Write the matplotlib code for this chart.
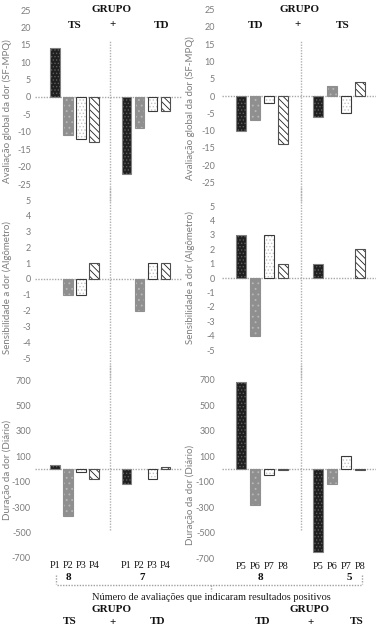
import matplotlib
matplotlib.use('Agg')
import matplotlib.pyplot as plt
import numpy as np
from matplotlib.lines import Line2D

# ---------------- data ----------------
bar_labels_left = ['P1', 'P2', 'P3', 'P4']
bar_labels_right = ['P5', 'P6', 'P7', 'P8']
groups_left = ['TS', 'TD']
groups_right = ['TD', 'TS']

sfmpq_left_ts = [14, -11, -12, -13]
sfmpq_left_td = [-22, -9, -4, -4]
sfmpq_right_td = [-10, -7, -2, -14]
sfmpq_right_ts = [-6, 3, -5, 4]

alg_left_ts = [0, -1, -1, 1]
alg_left_td = [0, -2, 1, 1]
alg_right_td = [3, -4, 3, 1]
alg_right_ts = [1, 0, 0, 2]

dur_left_ts = [35, -370, -20, -80]
dur_left_td = [-120, 0, -80, 15]
dur_right_td = [680, -285, -45, -10]
dur_right_ts = [-650, -115, 100, -5]

counts = ['8', '7', '8', '5']

ylabels = ['Avaliação global da dor (SF-MPQ)',
           'Sensibilidade a dor (Algômetro)',
           'Duração da dor (Diário)']
sfmpq_ticks = [25, 20, 15, 10, 5, 0, -5, -10, -15, -20, -25]
alg_ticks = [5, 4, 3, 2, 1, 0, -1, -2, -3, -4, -5]
dur_ticks = [700, 500, 300, 100, -100, -300, -500, -700]

# ---------------- layout ----------------
W, H = 379, 630
fig = plt.figure(figsize=(W / 100, H / 100), dpi=100)
SANS = ['Lato', 'DejaVu Sans']
SERIF = ['Liberation Serif', 'DejaVu Serif']
GRAY = '#7c7c7c'
plt.rcParams['hatch.linewidth'] = 0.6


def px_axes(x0, x1, y0, y1):
    return fig.add_axes([x0 / W, 1 - y1 / H, (x1 - x0) / W, (y1 - y0) / H])


def ftext(x, y, s, **kw):
    kw.setdefault('ha', 'center')
    kw.setdefault('va', 'center')
    fig.text(x / W, 1 - y / H, s, **kw)


styles = [
    dict(fc='#1f1f1f', hatch='.....', hc='#5c5c5c', ec='#808080'),
    dict(fc='#8f8f8f', hatch='...', hc='#b8b8b8', ec='#8f8f8f'),
    dict(fc='white', hatch='.....', hc='#c4c4c4', ec='#3a3a3a'),
    dict(fc='white', hatch='\\\\\\\\\\', hc='#202020', ec='#505050'),
]

positions = np.concatenate([np.arange(4), np.arange(4) + 5.5])
divider_x = 4.25
width = 0.76

cols = {
    'L': dict(x0=35, x1=182, xlim=(-1.54, 9.77), tick_right=31, ylab_x=7),
    'R': dict(x0=222, x1=376, xlim=(-1.36, 9.64), tick_right=215, ylab_x=190),
}
panels = [
    dict(L=(4, 201, 97, 3.48), R=(4, 201, 96, 3.46), ticks=sfmpq_ticks,
         data=dict(L=(sfmpq_left_ts, sfmpq_left_td), R=(sfmpq_right_td, sfmpq_right_ts)),
         div=dict(L=(16, None), R=(16, None)), ylab_y=dict(L=111, R=108)),
    dict(L=(187, 378, 279, 15.8), R=(187, 378, 278, 14.4), ticks=alg_ticks,
         data=dict(L=(alg_left_ts, alg_left_td), R=(alg_right_td, alg_right_ts)),
         div=dict(L=(None, None), R=(None, None)), ylab_y=dict(L=288, R=278)),
    dict(L=(365, 560, 469, 0.127), R=(365, 561, 469, 0.1275), ticks=dur_ticks,
         data=dict(L=(dur_left_ts, dur_left_td), R=(dur_right_td, dur_right_ts)),
         div=dict(L=(None, -480), R=(None, -480)), ylab_y=dict(L=470, R=495)),
]

for pi, p in enumerate(panels):
    for ck in ['L', 'R']:
        c = cols[ck]
        top, bot, zero, ppu = p[ck]
        ax = px_axes(c['x0'], c['x1'], top, bot)
        ax.set_xlim(*c['xlim'])
        ax.set_ylim(-(bot - zero) / ppu, (zero - top) / ppu)
        ax.patch.set_alpha(0)
        for s in ax.spines.values():
            s.set_visible(False)
        vals = list(p['data'][ck][0]) + list(p['data'][ck][1])
        for j, (x, v) in enumerate(zip(positions, vals)):
            st = styles[j % 4]
            if v == 0:
                continue
            ax.bar(x, v, width, color=st['fc'], edgecolor=st['hc'], hatch=st['hatch'],
                   linewidth=0, zorder=3)
            ax.bar(x, v, width, fill=False, edgecolor=st['ec'], linewidth=0.8, zorder=4)
        ax.axhline(0, color='#a8a8a8', lw=1.0, ls=(0, (1, 1)), zorder=2)
        lo, hi = ax.get_ylim()
        d_hi, d_lo = p['div'][ck]
        ax.plot([divider_x, divider_x], [d_lo if d_lo is not None else lo,
                                         d_hi if d_hi is not None else hi],
                color='#b0b0b0', lw=1.0, ls=(0, (1, 1)), zorder=1, clip_on=False)
        ax.set_yticks(p['ticks'])
        ax.set_yticklabels([str(t) for t in p['ticks']], color=GRAY, fontsize=6.5,
                           family=SANS)
        pad_px = c['x0'] - c['tick_right']
        ax.tick_params(axis='y', length=0, pad=pad_px * 0.72)
        if pi == 2:
            labs = bar_labels_left if ck == 'L' else bar_labels_right
            ax.set_xticks(positions)
            ax.set_xticklabels(labs + labs, family=SERIF, fontsize=7.5, color='#1a1a1a')
            ax.tick_params(axis='x', length=0, pad=0.5)
        else:
            ax.set_xticks([])
        ftext(c['ylab_x'], p['ylab_y'][ck], ylabels[pi], rotation=90, color=GRAY,
              fontsize=7.0, family=SANS)

# ---------------- header texts ----------------
hdr = dict(family=SERIF, fontsize=8, fontweight='bold', color='#111111')
plus = dict(family=SERIF, fontsize=8, fontweight='bold', color='#111111')
ftext(111, 10, 'GRUPO', **hdr)
ftext(75, 25, groups_left[0], **hdr)
ftext(113, 25, '+', **plus)
ftext(162, 25, groups_left[1], **hdr)
ftext(300, 10, 'GRUPO', **hdr)
ftext(256, 25, groups_right[0], **hdr)
ftext(298, 25, '+', **plus)
ftext(343, 25, groups_right[1], **hdr)

# ---------------- bottom bracket ----------------
bc = dict(color='#a0a0a0', lw=1.0, ls=(0, (1, 1)))
for xs, ys in [([56, 56], [575, 584]), ([57, 361], [585, 585]),
               ([362, 362], [575, 584]), ([211, 211], [585, 591])]:
    fig.add_artist(Line2D([x / W for x in xs], [1 - y / H for y in ys], **bc))
for x, s in zip([68, 142, 260, 349], counts):
    ftext(x, 577, s, **hdr)
ftext(211, 598, 'Número de avaliações que indicaram resultados positivos',
      family=SERIF, fontsize=7.5, color='#1a1a1a')
ftext(112, 609, 'GRUPO', **hdr)
ftext(310, 609, 'GRUPO', **hdr)
ftext(70, 622, groups_left[0], **hdr)
ftext(113, 622, '+', **plus)
ftext(158, 622, groups_left[1], **hdr)
ftext(263, 622, groups_right[0], **hdr)
ftext(311, 622, '+', **plus)
ftext(357, 622, groups_right[1], **hdr)

fig.savefig('out.png', dpi=100)
